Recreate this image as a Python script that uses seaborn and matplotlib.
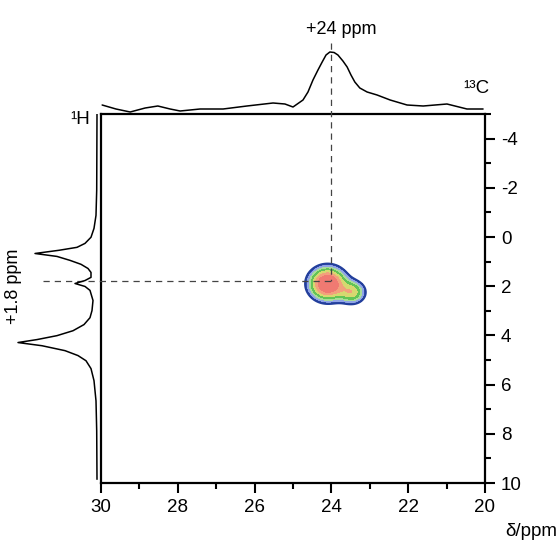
import matplotlib
matplotlib.use("Agg")
import matplotlib.pyplot as plt
from matplotlib.ticker import MultipleLocator
import seaborn as sns
import numpy as np
import pandas as pd

# 13C projection (top): shift in ppm, intensity in a.u.
c13_ppm = [29.97, 29.61, 29.24, 28.85, 28.52, 28.20, 27.94, 27.42, 26.82, 26.20,
           25.52, 25.21, 25.00, 24.74, 24.61, 24.48, 24.35, 24.24, 24.14, 24.04,
           23.93, 23.83, 23.70, 23.59, 23.49, 23.39, 23.26, 23.07, 22.81, 22.47,
           22.03, 21.61, 20.99, 20.47, 20.05]
c13_int = [7, 3, 0, 4, 6, 3, 1, 3, 3, 6,
           9, 8, 5, 12, 20, 32, 42, 50, 57, 60,
           59.5, 57, 51, 45, 37, 30, 24, 20, 17, 12,
           7, 6, 8, 3, 3]

# 1H projection (left)
h1_ppm = [-5.0, -1.9, -0.88, -0.35, 0.01, 0.26, 0.42, 0.54, 0.67, 0.79,
          0.95, 1.11, 1.28, 1.44, 1.64, 1.77, 1.89, 2.01, 2.17, 2.58,
          2.99, 3.28, 3.56, 3.81, 4.01, 4.17, 4.29, 4.42, 4.62, 4.82,
          5.03, 5.35, 5.84, 6.66, 7.88, 9.85]
h1_int = [0, 0.3, 1, 3, 6, 12, 20, 38, 62, 40,
          27, 16, 9, 6, 6, 12, 22, 12, 7, 4,
          5, 7, 13, 24, 40, 60, 79, 55, 32, 19,
          11, 6, 3, 1, 0.3, 0]

# cross peak: 13C centre, 1H centre, relative height, widths (ppm)
peak_c = [24.1, 23.45]
peak_h = [1.9, 2.25]
peak_amp = [1.0, 0.5]
peak_wc = [0.30, 0.22]
peak_wh = [0.42, 0.30]

# marked shifts
mark_c = 24.0
mark_h = 1.8

x_ticks = [30, 28, 26, 24, 22, 20]
y_ticks = [-4, -2, 0, 2, 4, 6, 8, 10]

sns.set_style("white")
plt.rcParams['font.family'] = ['Liberation Sans', 'DejaVu Sans']
plt.rcParams['axes.unicode_minus'] = False
plt.rcParams['text.color'] = 'black'
plt.rcParams['xtick.color'] = 'black'
plt.rcParams['ytick.color'] = 'black'

fig = plt.figure(figsize=(5.58, 5.41), dpi=100)
W, H = 558, 541

def frac(x0, y0, x1, y1):
    return [x0 / W, 1 - y1 / H, (x1 - x0) / W, (y1 - y0) / H]

ax = fig.add_axes(frac(101, 114, 485, 483))
ax_top = fig.add_axes(frac(101, 40, 485, 113))
ax_left = fig.add_axes(frac(8, 114, 101, 483))

# 2D spectrum
cc = np.linspace(20, 30, 400)
hh = np.linspace(-5, 10, 400)
CC, HH = np.meshgrid(cc, hh)
Z = np.zeros_like(CC)
for c0, h0, a, wc, wh in zip(peak_c, peak_h, peak_amp, peak_wc, peak_wh):
    Z += a * np.exp(-0.5 * (((CC - c0) / wc) ** 2 + ((HH - h0) / wh) ** 2))

levels = [0.15, 0.21, 0.28, 0.36, 0.46, 0.58, 0.72, 2.0]
cols = ['#3a56b0', '#90a4e6', '#a8dc98', '#62c456', '#d6d870', '#f2a07c', '#f07a72']
ax.contourf(CC, HH, Z, levels=levels, colors=cols)
ax.contour(CC, HH, Z, levels=[0.15], colors='#233f9c', linewidths=1.5)

ax.set_xlim(30, 20)
ax.set_ylim(10, -5)
ax.set_xticks(x_ticks)
ax.set_yticks(y_ticks)
ax.xaxis.set_minor_locator(MultipleLocator(1))
ax.yaxis.set_minor_locator(MultipleLocator(1))
ax.yaxis.tick_right()
ax.tick_params(which='major', direction='out', length=7.5, width=1.5,
               labelsize=13.5, pad=4, bottom=True, right=True, left=False, top=False)
ax.tick_params(which='minor', direction='out', length=4.5, width=1.5,
               bottom=True, right=True, left=False, top=False)
for s in ax.spines.values():
    s.set_linewidth(1.6)
    s.set_color('black')
ax.set_xlabel('')
ax.set_ylabel('')

# dashed guide lines
ax.plot([mark_c, mark_c], [-7.9, mark_h], ls=(0, (5, 4)), color='#444444',
        lw=0.9, clip_on=False, zorder=5)
ax.plot([31.5, mark_c], [mark_h, mark_h], ls=(0, (5, 4)), color='#444444',
        lw=0.9, clip_on=False, zorder=5)

# top projection
df_c = pd.DataFrame({'ppm': c13_ppm, 'int': c13_int})
sns.lineplot(data=df_c, x='ppm', y='int', ax=ax_top, color='black', lw=1.1,
             sort=False, estimator=None)
ax_top.set_xlim(30, 20)
ax_top.set_ylim(-1, 72)
ax_top.axis('off')

# left projection
df_h = pd.DataFrame({'ppm': h1_ppm, 'int': h1_int})
sns.lineplot(data=df_h, x='int', y='ppm', ax=ax_left, color='black', lw=1.1,
             sort=False, estimator=None)
ax_left.set_xlim(89, -4)
ax_left.set_ylim(10, -5)
ax_left.axis('off')

# labels
fig.text(341 / W, 1 - 29 / H, '+24 ppm', ha='center', va='center', fontsize=13)
fig.text(13 / W, 1 - 286 / H, '+1.8 ppm', ha='center', va='center', fontsize=13,
         rotation=90)
fig.text(476 / W, 1 - 88 / H, '¹³C', ha='center', va='center', fontsize=13.5)
fig.text(80 / W, 1 - 120 / H, '¹H', ha='center', va='center', fontsize=13.5)
fig.text(557 / W, 1 - 531 / H, 'δ/ppm', ha='right', va='center', fontsize=13.5)

fig.savefig('out.png', dpi=100)
